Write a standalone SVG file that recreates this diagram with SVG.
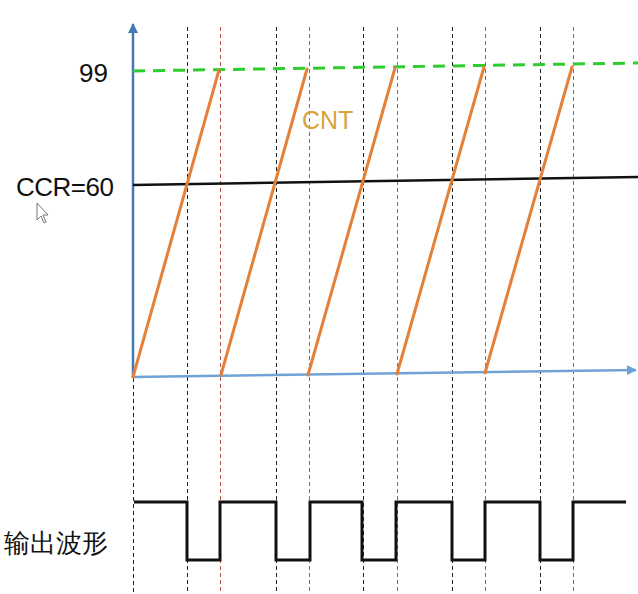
<svg xmlns="http://www.w3.org/2000/svg" width="638" height="594" viewBox="0 0 638 594">
<defs>
<style>
.vb{stroke:#222;stroke-width:1;stroke-dasharray:4 3;fill:none}
.vr{stroke:#c0504d;stroke-width:1;stroke-dasharray:4 3;fill:none}
.saw{stroke:#e5803a;stroke-width:3;fill:none;stroke-linecap:round}
.lbl{font-family:"Liberation Sans",Arial,sans-serif;fill:#111}
</style>
<marker id="ah" viewBox="0 0 10 10" refX="9" refY="5" markerWidth="4" markerHeight="4" orient="auto"><path d="M0,0 L10,5 L0,10 z" fill="#4479b3"/></marker>
<marker id="ahx" viewBox="0 0 10 10" refX="9" refY="5" markerWidth="4" markerHeight="4" orient="auto"><path d="M0,0 L10,5 L0,10 z" fill="#6fa3d6"/></marker>
</defs>
<rect width="638" height="594" fill="#fff"/>
<g id="grid">
<line class="vb" x1="133.5" y1="378" x2="133.5" y2="594"/>
<line class="vb" x1="187.5" y1="27" x2="187.5" y2="594"/>
<line class="vb" x1="276.5" y1="27" x2="276.5" y2="594"/>
<line class="vb" x1="363.5" y1="27" x2="363.5" y2="594"/>
<line class="vb" x1="452.5" y1="27" x2="452.5" y2="594"/>
<line class="vb" x1="540.5" y1="27" x2="540.5" y2="594"/>
<line class="vr" x1="220.5" y1="27" x2="220.5" y2="594"/>
<line class="vr" x1="309.5" y1="27" x2="309.5" y2="594"/>
<line class="vr" x1="397.5" y1="27" x2="397.5" y2="594"/>
<line class="vr" x1="485.5" y1="27" x2="485.5" y2="594"/>
<line class="vr" x1="573.5" y1="27" x2="573.5" y2="594"/>
</g>
<g id="axes">
<line x1="133" y1="378" x2="133" y2="24" stroke="#4479b3" stroke-width="2.5" marker-end="url(#ah)"/>
<line x1="133" y1="377" x2="636" y2="370" stroke="#6fa3d6" stroke-width="2.5" marker-end="url(#ahx)"/>
</g>
<g id="levels">
<line x1="133" y1="71" x2="638" y2="63" stroke="#2fcc2f" stroke-width="3" stroke-dasharray="12 8"/>
<line x1="133" y1="185" x2="638" y2="177" stroke="#111" stroke-width="2.5"/>
</g>
<g id="cnt">
<line class="saw" x1="133" y1="377" x2="219" y2="70"/>
<line class="saw" x1="221" y1="375" x2="307" y2="69"/>
<line class="saw" x1="308" y1="375" x2="395" y2="68"/>
<line class="saw" x1="397" y1="374" x2="484" y2="67"/>
<line class="saw" x1="485" y1="373" x2="572" y2="67"/>
</g>
<g id="output">
<polyline fill="none" stroke="#111" stroke-width="3" stroke-linejoin="miter" points="134,502 187,502 187,560 220,560 220,502 276,502 276,560 310,560 310,502 362,502 362,560 396,560 396,502 452,502 452,560 485,560 485,502 540,502 540,560 573,560 573,502 626,502"/>
</g>
<g id="labels">
<text class="lbl" x="79" y="82" font-size="26">99</text>
<text class="lbl" x="16" y="196" font-size="26" letter-spacing="-0.5">CCR=60</text>
<text x="302" y="129" font-size="25" font-family="'Liberation Sans',Arial,sans-serif" fill="#d9a33a">CNT</text>
<text class="lbl" x="4" y="552" font-size="26" font-family="'Noto Sans CJK SC','Liberation Sans',sans-serif">输出波形</text>
</g>
<g id="cursor">
<path d="M37,203 L37,220 L41,216 L44,223 L46,222 L43,215 L48,215 Z" fill="#fff" stroke="#777" stroke-width="1"/>
</g>
</svg>
